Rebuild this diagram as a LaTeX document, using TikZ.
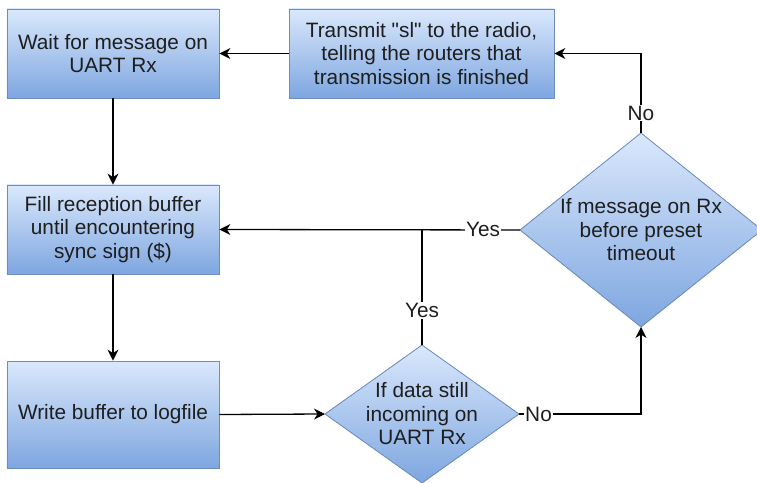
\documentclass[tikz,border=0pt]{standalone}
\usepackage{fontspec}
\setmainfont{Liberation Sans}
\usetikzlibrary{arrows.meta,calc}
\definecolor{boxtop}{HTML}{DAE8FC}
\definecolor{boxbot}{HTML}{7EA6E0}
\definecolor{boxline}{HTML}{6C8EBF}
\definecolor{txt}{HTML}{1E1E1E}
\tikzset{
  boxstyle/.style={draw=boxline, line width=0.8bp, top color=boxtop, bottom color=boxbot, align=center, text=txt, inner sep=2bp},
  diastyle/.style={draw=boxline, line width=0.8bp, top color=boxtop, bottom color=boxbot},
  diatext/.style={align=center, text=txt},
  arr/.style={line width=1.3bp, -{Stealth[length=11bp,width=11bp,inset=3.5bp]}},
  conn/.style={line width=1.3bp},
  lbl/.style={fill=white, inner sep=1bp, text=txt}
}
\begin{document}
\begin{tikzpicture}[x=1bp,y=-1bp, font=\fontsize{20.8bp}{23.5bp}\selectfont]
\useasboundingbox (0,0) rectangle (757,483);
\node[boxstyle, minimum width=212bp, minimum height=89bp] (b1) at (113,53.5) {Wait for message on\\UART Rx};
\node[boxstyle, minimum width=265bp, minimum height=89bp] (b2) at (421.5,53.5) {Transmit \textquotedbl sl\textquotedbl{} to the radio,\\telling the routers that\\transmission is finished};
\node[boxstyle, minimum width=212bp, minimum height=89bp] (b3) at (113,229.5) {Fill reception buffer\\until encountering\\sync sign (\$)};
\node[boxstyle, minimum width=212bp, minimum height=107bp] (b4) at (113,414.5) {Write buffer to logfile};
% diamond 1
\coordinate (d1c) at (641,230);
\coordinate (d1t) at (641,133);
\coordinate (d1b) at (641,327);
\coordinate (d1l) at (520,230);
\coordinate (d1r) at (762,230);
\fill[diastyle] (d1t) -- (d1r) -- (d1b) -- (d1l) -- cycle;
\node[diatext] (d1) at (d1c) {If message on Rx\\before preset\\timeout};
% diamond 2
\coordinate (d2c) at (422,414);
\coordinate (d2t) at (422,345);
\coordinate (d2b) at (422,483);
\coordinate (d2l) at (325,414);
\coordinate (d2r) at (519,414);
\fill[diastyle] (d2t) -- (d2r) -- (d2b) -- (d2l) -- cycle;
\node[diatext] (d2) at (d2c) {If data still\\incoming on\\UART Rx};
% connectors
\draw[arr] (b2.west) -- (b1.east);
\draw[arr] (b1.south) -- (b3.north);
\draw[arr] (b3.south) -- (b4.north);
\draw[arr] (b4.east) -- (d2l);
\draw[arr] (d2r) -- node[lbl,pos=0.16]{No} (d2r -| d1b) -- (d1b);
\draw[arr] (d1t) -- node[lbl,pos=0.25]{No} (d1t |- b2.east) -- (b2.east);
\draw[arr] (d1l) -- node[lbl,pos=0.123]{Yes} (b3.east);
\coordinate (j) at (d2t |- d1l);
\draw[conn] (d2t) -- node[lbl,pos=0.3]{Yes} (j);
\end{tikzpicture}
\end{document}
